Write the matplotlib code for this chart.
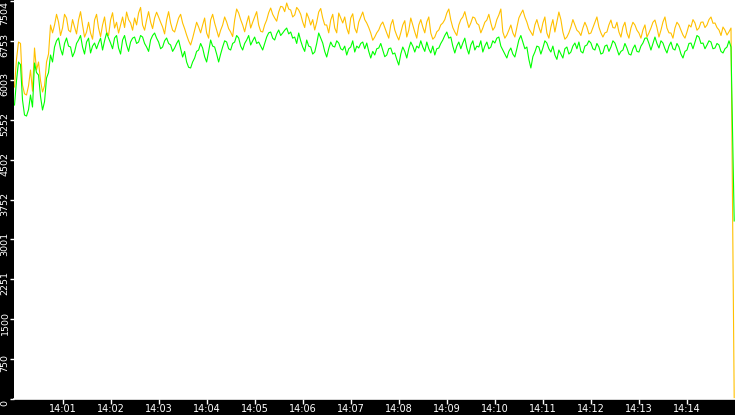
import numpy as np
import matplotlib
matplotlib.use("Agg")
import matplotlib.pyplot as plt
from matplotlib.transforms import ScaledTranslation

# one sample every 2.5 s from 14:00:00, final sample at 14:14:59
orange_vals = [
    5878, 6400, 6727, 6700, 5915, 5750, 5727, 5900, 6199, 5800,
    6614, 6200, 6350, 6000, 5784, 5900, 6350, 6500,
    7048, 6900,
    7048, 7250, 7105, 6850, 6991, 7250, 7180, 6950, 6916, 7150, 7010, 6880, 7142, 7300, 7048, 6820, 6916, 7100, 6897, 6780,
    7142, 7250, 6991, 6830, 7048, 7200, 6916, 6850, 7142, 7280, 6991, 7100, 6897, 7050, 7199, 7000, 7293, 7150, 7086, 6950,
    7180, 7050, 7274, 7380, 7048, 6950, 7142, 7300, 7105, 6980, 7180, 7290, 7199, 7100, 7010, 6880, 7142, 7300, 7086, 6950,
    6916, 7050, 7180, 7250, 7086, 6980, 6859, 6750, 6671, 6800, 6954, 7100, 7010, 6900, 7048, 7180, 6897, 6800, 7142, 7250,
    7086, 6950, 6821, 6950, 7048, 7200, 7105, 6980, 6916, 6830, 7142, 7350, 7274, 7150, 7048, 6920, 7086, 7220, 6991, 7100,
    7199, 7300, 7048, 6930, 6916, 7050, 7142, 7280, 7369, 7250, 7180, 7120, 7293, 7400, 7388, 7300, 7463, 7350, 7331, 7200,
    7237, 7380, 7331, 7250, 7105, 7000, 7274, 7180, 7048, 7150, 6954, 7100, 7293, 7360, 7180, 7050, 7048, 6900, 7142, 7250,
    6991, 6900, 7274, 7180, 7086, 7200, 6991, 6880, 7180, 7260, 6991, 6900, 7105, 7200, 7293, 7150, 7086, 7000, 6897, 6760,
    6821, 6900, 6954, 7050, 7105, 7000, 6897, 6800, 7048, 7150, 6954, 6850, 6765, 6900, 7048, 7130, 6821, 6950, 7180, 7050,
    6916, 6800, 7048, 7150, 7010, 6900, 7105, 7200, 6897, 6780, 6821, 6920, 6954, 7050, 7086, 7150, 7274, 7350, 7142, 7000,
    6916, 6850, 7048, 7150, 7199, 7300, 7142, 7000, 7086, 7200, 7180, 7080, 7048, 6900, 6991, 7100, 7142, 7250, 7086, 6950,
    7010, 7150, 7237, 7350, 6916, 6800, 6859, 6950, 7048, 6900, 6821, 7000, 7180, 7260, 7331, 7200, 7105, 6980, 6916, 6850,
    7048, 7150, 7010, 6900, 7086, 7200, 6897, 6800, 7010, 7150, 6916, 7100, 7293, 7150, 6916, 6780, 6821, 6900, 7010, 7150,
    7048, 6950, 6916, 6850, 6991, 7100, 7010, 6880, 6897, 7000, 7105, 7200, 7010, 6900, 6821, 6900, 6916, 7050, 7142, 7000,
    6991, 7100, 6916, 6820, 7010, 7100, 6897, 6800, 6991, 7100, 7048, 6950, 6897, 6800, 6954, 7050, 6821, 6900, 6991, 7100,
    7142, 7000, 6821, 6950, 7105, 7200, 6991, 6900, 6897, 6800, 6991, 7100, 7048, 6950, 6859, 6800, 6916, 7050, 7010, 7150,
    7086, 6950, 6991, 7100, 7105, 7000, 7048, 7150, 7199, 7080, 7086, 7000, 6954, 6850, 7010, 6950, 6859, 6920, 6991,
    0,
]
green_vals = [
    5538, 6000, 6350, 6300, 5633, 5350, 5330, 5450, 5727, 5500,
    6331, 6150, 6104, 5700, 5444, 5600, 6048, 6150,
    6482, 6350,
    6633, 6750, 6803, 6600, 6482, 6700, 6803, 6650, 6633, 6450, 6538, 6700, 6765, 6850, 6633, 6500, 6727, 6800, 6520, 6650,
    6708, 6600, 6708, 6800, 6576, 6750, 6897, 6800, 6708, 6600, 6803, 6850, 6614, 6500, 6765, 6850, 6671, 6550, 6727, 6800,
    6821, 6700, 6727, 6850, 6821, 6700, 6633, 6550, 6765, 6850, 6897, 6800, 6727, 6600, 6633, 6750, 6803, 6700, 6671, 6550,
    6614, 6700, 6765, 6600, 6444, 6550, 6350, 6250, 6237, 6350, 6425, 6550, 6576, 6700, 6614, 6450, 6350, 6550, 6765, 6650,
    6633, 6500, 6350, 6500, 6633, 6750, 6727, 6600, 6576, 6700, 6727, 6850, 6803, 6650, 6576, 6700, 6765, 6850, 6671, 6750,
    6821, 6700, 6727, 6650, 6576, 6700, 6821, 6900, 6916, 6800, 6765, 6880, 6954, 6850, 6897, 6950, 6991, 6880, 6916, 6800,
    6821, 6700, 6897, 6750, 6633, 6550, 6765, 6650, 6633, 6500, 6538, 6700, 6897, 6800, 6708, 6550, 6444, 6600, 6727, 6650,
    6633, 6750, 6708, 6600, 6576, 6650, 6482, 6600, 6633, 6750, 6538, 6650, 6614, 6700, 6727, 6600, 6708, 6550, 6425, 6550,
    6482, 6600, 6614, 6700, 6576, 6450, 6482, 6600, 6614, 6500, 6520, 6400, 6293, 6500, 6633, 6550, 6425, 6600, 6727, 6650,
    6538, 6650, 6614, 6750, 6633, 6550, 6727, 6600, 6520, 6650, 6482, 6600, 6614, 6700, 6765, 6850, 6916, 6800, 6821, 6650,
    6520, 6650, 6727, 6600, 6708, 6800, 6614, 6500, 6671, 6750, 6576, 6650, 6633, 6750, 6538, 6650, 6727, 6600, 6633, 6750,
    6708, 6800, 6821, 6650, 6576, 6500, 6425, 6550, 6614, 6500, 6444, 6600, 6765, 6850, 6727, 6600, 6633, 6400, 6237, 6450,
    6538, 6650, 6633, 6500, 6614, 6750, 6708, 6600, 6538, 6650, 6482, 6400, 6576, 6500, 6425, 6600, 6633, 6500, 6538, 6650,
    6708, 6600, 6727, 6550, 6520, 6650, 6671, 6750, 6708, 6600, 6576, 6700, 6633, 6500, 6520, 6650, 6671, 6550, 6633, 6750,
    6708, 6600, 6482, 6550, 6576, 6700, 6614, 6500, 6482, 6600, 6671, 6550, 6538, 6650, 6708, 6800, 6803, 6700, 6576, 6700,
    6821, 6700, 6614, 6750, 6708, 6600, 6520, 6650, 6727, 6600, 6576, 6700, 6633, 6500, 6425, 6550, 6576, 6700, 6708, 6600,
    6727, 6850, 6821, 6700, 6708, 6600, 6671, 6750, 6727, 6600, 6614, 6700, 6671, 6550, 6520, 6600, 6633, 6750, 6633,
    3350,
]
y_tick_vals = [0, 750.4, 1500.8, 2251.2, 3001.6, 3752.0, 4502.4, 5252.8, 6003.2, 6753.6, 7504.0]
y_tick_labels = ["0", "750", "1500", "2251", "3001", "3752", "4502", "5252", "6003", "6753", "7504"]
x_tick_minutes = list(range(1, 15))
x_tick_labels = ["14:%02d" % m for m in x_tick_minutes]


def times(vals):
    # regular 2.5 s samples, last one is the drop at the end of the run
    return [2.5 * i for i in range(len(vals) - 1)] + [899]


fig = plt.figure(figsize=(7.35, 4.15), dpi=100, facecolor="black")
ax = fig.add_axes([14.5 / 735, 16.5 / 415, 720.5 / 735, 398.5 / 415])
ax.set_facecolor("white")

ax.plot(times(orange_vals), orange_vals, color="#FFC000", lw=0.8)
ax.plot(times(green_vals), green_vals, color="#00FF00", lw=0.8)

ax.set_xlim(0, 900)
ax.set_ylim(0, 7520)

ax.set_yticks(y_tick_vals)
ax.set_yticklabels(y_tick_labels, rotation=90, va="center", fontsize=6.8,
                   color="white", family=["Liberation Sans Narrow", "DejaVu Sans"])
ax.set_xticks([m * 60 for m in x_tick_minutes])
ax.set_xticklabels(x_tick_labels, fontsize=7, color="white")

ax.tick_params(axis="y", colors="white", length=3, width=1, pad=0.5)
ax.tick_params(axis="x", colors="white", length=3.5, width=1, pad=0.8)

shift = ScaledTranslation(0, -4 / 100, fig.dpi_scale_trans)
ylabs = ax.get_yticklabels()
for lab in ylabs[:-1]:
    lab.set_transform(lab.get_transform() + shift)
ylabs[-1].set_va("top")

for side in ["top", "right", "left"]:
    ax.spines[side].set_visible(False)
ax.spines["bottom"].set_color("white")
ax.spines["bottom"].set_linewidth(1.2)

fig.savefig("out.png", dpi=100, facecolor="black")
